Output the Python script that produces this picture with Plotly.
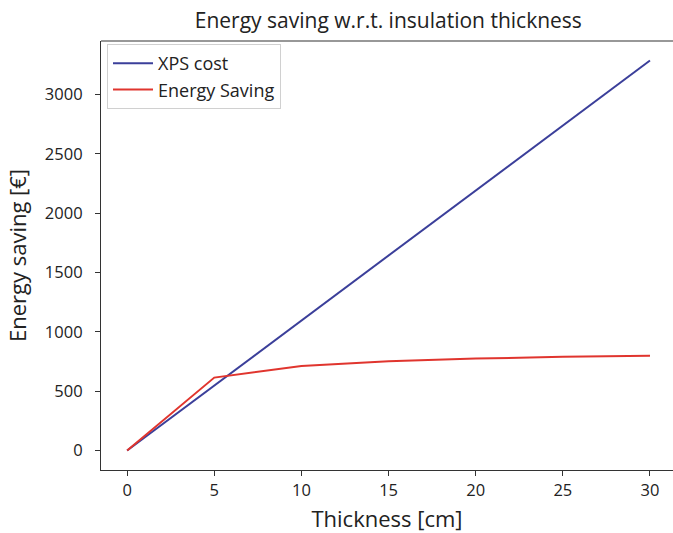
import plotly.graph_objects as go

thickness = [0, 5, 10, 15, 20, 25, 30]
xps_cost = [0, 548, 1096, 1644, 2192, 2740, 3288]
energy_saving = [0, 615, 712, 752, 775, 790, 798]

x_ticks = [0, 5, 10, 15, 20, 25, 30]
y_ticks = [0, 500, 1000, 1500, 2000, 2500, 3000]

FONT = "Open Sans"

fig = go.Figure()
fig.add_trace(go.Scatter(x=thickness, y=xps_cost, mode="lines", name="XPS cost",
                         line=dict(color="#3b3f9a", width=2)))
fig.add_trace(go.Scatter(x=thickness, y=energy_saving, mode="lines", name="Energy Saving",
                         line=dict(color="#e0352e", width=2)))

fig.update_layout(
    width=673, height=533,
    margin=dict(l=101, r=0, t=41, b=63),
    paper_bgcolor="white", plot_bgcolor="white",
    font=dict(family=FONT, color="#222222", size=17),
    title=dict(text="Energy saving w.r.t. insulation thickness", x=0.577,
               xanchor="center", y=0.962, yanchor="middle", font=dict(size=21, family=FONT, color="#222")),
    showlegend=True,
    legend=dict(x=0.0105, y=0.993, xanchor="left", yanchor="top", itemwidth=40,
                bgcolor="rgba(255,255,255,0.9)", bordercolor="#d0d0d0", borderwidth=1,
                font=dict(size=18, family=FONT, color="#222"), tracegroupgap=0),
    xaxis=dict(range=[-1.5, 31.32], tickvals=x_ticks, showgrid=False, zeroline=False,
               showline=True, linecolor="#333", linewidth=1.2, ticks="outside", ticklen=5,
               tickcolor="#333", tickfont=dict(size=16.5),
               title=dict(text="Thickness [cm]", font=dict(size=22), standoff=12)),
    yaxis=dict(range=[-164, 3452], tickvals=y_ticks, showgrid=False, zeroline=False,
               showline=True, linecolor="#333", linewidth=1.2, ticks="outside", ticklen=5,
               tickcolor="#333", tickfont=dict(size=16.5), ticklabelstandoff=9,
               title=dict(text="Energy saving [€]", font=dict(size=22), standoff=12)),
    shapes=[dict(type="line", xref="paper", yref="paper", x0=0, x1=1, y0=1, y1=1,
                 line=dict(color="#333", width=1.2))],
)

fig.write_html("out.html")
